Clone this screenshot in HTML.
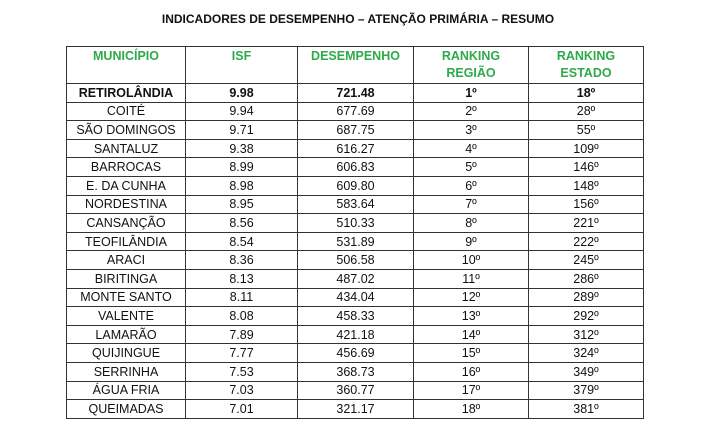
<!DOCTYPE html>
<html><head><meta charset="utf-8"><style>
body{margin:0;width:716px;height:427px;background:#fff;font-family:"Liberation Sans",sans-serif;position:relative;overflow:hidden}
.t{position:absolute;top:12px;left:0;width:716px;text-align:center;font-weight:bold;font-size:12px;color:#111}
table{position:absolute;left:66px;top:46px;border-collapse:collapse;font-size:12.5px;color:#111}
td{border:1.5px solid #333;text-align:center;padding:0;height:17.6px;line-height:16px}
tr.h td{height:35px;vertical-align:top;color:#2daa4a;font-weight:bold;font-size:12.5px;line-height:17px;padding-top:1px}
tr.b td{font-weight:bold}
</style></head><body>
<div class="t">INDICADORES DE DESEMPENHO – ATENÇÃO PRIMÁRIA – RESUMO</div>
<table>
<colgroup><col style="width:119px"><col style="width:112px"><col style="width:116px"><col style="width:115px"><col style="width:115px"></colgroup>
<tr class="h"><td>MUNICÍPIO</td><td>ISF</td><td>DESEMPENHO</td><td>RANKING<br>REGIÃO</td><td>RANKING<br>ESTADO</td></tr>
<tr class="b"><td>RETIROLÂNDIA</td><td>9.98</td><td>721.48</td><td>1º</td><td>18º</td></tr>
<tr><td>COITÉ</td><td>9.94</td><td>677.69</td><td>2º</td><td>28º</td></tr>
<tr><td>SÃO DOMINGOS</td><td>9.71</td><td>687.75</td><td>3º</td><td>55º</td></tr>
<tr><td>SANTALUZ</td><td>9.38</td><td>616.27</td><td>4º</td><td>109º</td></tr>
<tr><td>BARROCAS</td><td>8.99</td><td>606.83</td><td>5º</td><td>146º</td></tr>
<tr><td>E. DA CUNHA</td><td>8.98</td><td>609.80</td><td>6º</td><td>148º</td></tr>
<tr><td>NORDESTINA</td><td>8.95</td><td>583.64</td><td>7º</td><td>156º</td></tr>
<tr><td>CANSANÇÃO</td><td>8.56</td><td>510.33</td><td>8º</td><td>221º</td></tr>
<tr><td>TEOFILÂNDIA</td><td>8.54</td><td>531.89</td><td>9º</td><td>222º</td></tr>
<tr><td>ARACI</td><td>8.36</td><td>506.58</td><td>10º</td><td>245º</td></tr>
<tr><td>BIRITINGA</td><td>8.13</td><td>487.02</td><td>11º</td><td>286º</td></tr>
<tr><td>MONTE SANTO</td><td>8.11</td><td>434.04</td><td>12º</td><td>289º</td></tr>
<tr><td>VALENTE</td><td>8.08</td><td>458.33</td><td>13º</td><td>292º</td></tr>
<tr><td>LAMARÃO</td><td>7.89</td><td>421.18</td><td>14º</td><td>312º</td></tr>
<tr><td>QUIJINGUE</td><td>7.77</td><td>456.69</td><td>15º</td><td>324º</td></tr>
<tr><td>SERRINHA</td><td>7.53</td><td>368.73</td><td>16º</td><td>349º</td></tr>
<tr><td>ÁGUA FRIA</td><td>7.03</td><td>360.77</td><td>17º</td><td>379º</td></tr>
<tr><td>QUEIMADAS</td><td>7.01</td><td>321.17</td><td>18º</td><td>381º</td></tr>
</table>
</body></html>
